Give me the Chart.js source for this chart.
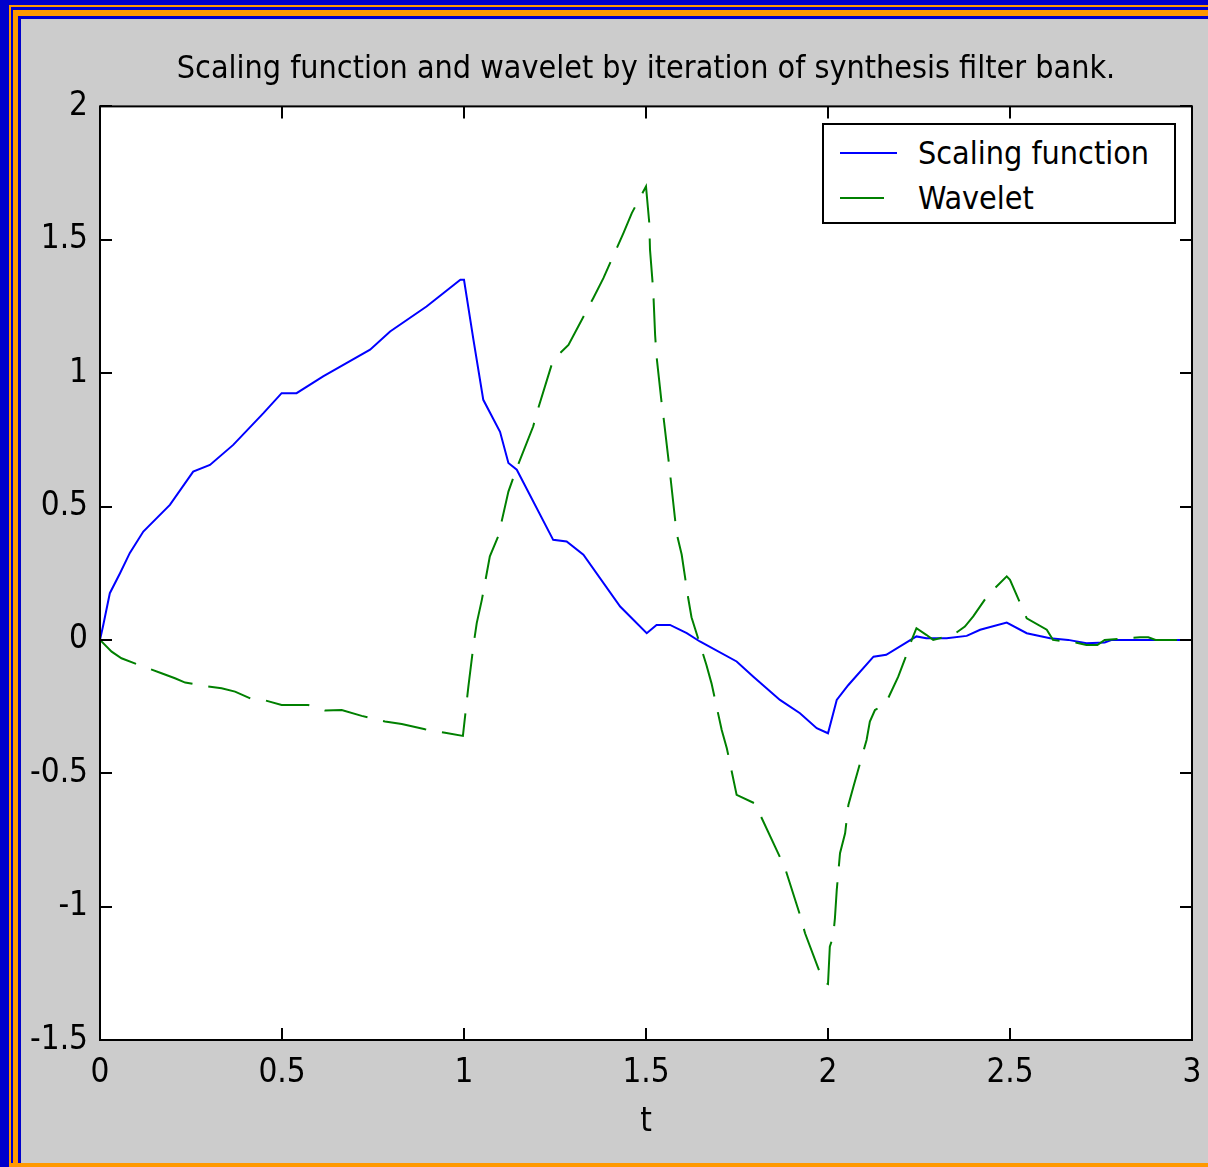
<!DOCTYPE html>
<html>
<head>
<meta charset="utf-8">
<script src="https://cdn.jsdelivr.net/npm/chart.js@4.4.1/dist/chart.umd.min.js"></script>
<style>
  html, body { margin: 0; padding: 0; }
  body { width: 1208px; height: 1167px; position: relative; overflow: hidden; background: #0000CC; }
  .fr { position: absolute; right: 0; }
  #chart { position: absolute; left: 0; top: 0; }
  #legend { position: absolute; left: 822px; top: 123px; width: 350px; height: 97px;
            border: 2px solid #000; background: #fff; }
  .lg-item { position: absolute; left: 0; height: 40px; width: 350px; }
  .lg-item svg { position: absolute; left: 16px; top: 0; }
  .lg-item span { position: absolute; left: 94px; top: 0; line-height: 40px; white-space: nowrap;
                  font-family: "DejaVu Sans Condensed", "Liberation Sans Narrow", sans-serif;
                  font-size: 32px; color: #000; }
</style>
</head>
<body>
<div class="fr" style="left:9px;top:5px;bottom:0;background:#FF9900"></div>
<div class="fr" style="left:11px;top:7px;bottom:4px;background:#0000CC"></div>
<div class="fr" style="left:13px;top:10px;bottom:4px;background:#FF9900"></div>
<div class="fr" style="left:18px;top:16px;bottom:4px;background:#0000CC"></div>
<div class="fr" style="left:21px;top:19px;bottom:4px;background:#CCCCCC"></div>
<canvas id="chart" width="1208" height="1167"></canvas>
<div id="legend"></div>
<script>
// ---- data ----
const titleText = 'Scaling function and wavelet by iteration of synthesis filter bank.';
const xAxisLabel = 't';
const seriesNames = ['Scaling function', 'Wavelet'];

const xTickValues = [0, 0.5, 1, 1.5, 2, 2.5, 3];
const xTickLabels = ['0', '0.5', '1', '1.5', '2', '2.5', '3'];
const yTickValues = [-1.5, -1, -0.5, 0, 0.5, 1, 1.5, 2];
const yTickLabels = ['-1.5', '-1', '-0.5', '0', '0.5', '1', '1.5', '2'];

const scalingT = [0, 0.009, 0.027, 0.055, 0.082, 0.119, 0.192, 0.256, 0.302, 0.366, 0.449, 0.499, 0.54,
  0.613, 0.742, 0.797, 0.897, 0.99, 1.0, 1.026, 1.053, 1.099, 1.122, 1.145, 1.245, 1.282, 1.328, 1.429,
  1.502, 1.529, 1.566, 1.612, 1.648, 1.749, 1.795, 1.868, 1.923, 1.969, 2.0, 2.024, 2.056, 2.125, 2.16,
  2.243, 2.27, 2.326, 2.381, 2.418, 2.491, 2.546, 2.61, 2.66, 2.71, 2.76, 2.78, 3.0];
const scalingV = [0, 0.056, 0.175, 0.25, 0.326, 0.406, 0.506, 0.631, 0.656, 0.731, 0.85, 0.925, 0.925,
  0.988, 1.088, 1.156, 1.25, 1.35, 1.35, 1.125, 0.9, 0.78, 0.663, 0.638, 0.375, 0.369, 0.319, 0.125,
  0.025, 0.056, 0.056, 0.025, -0.006, -0.081, -0.138, -0.225, -0.275, -0.331, -0.35, -0.225, -0.169, -0.063, -0.056,
  0.013, 0.006, 0.006, 0.015, 0.038, 0.065, 0.025, 0.006, 0, -0.013, -0.01, 0, 0];

const waveletT = [0, 0.032, 0.059, 0.119, 0.169, 0.206, 0.234, 0.284, 0.334, 0.371, 0.417, 0.449, 0.499,
  0.572, 0.618, 0.664, 0.719, 0.783, 0.829, 0.893, 0.948, 0.997, 1.012, 1.026, 1.035, 1.049, 1.071, 1.094,
  1.122, 1.145, 1.19, 1.204, 1.245, 1.287, 1.355, 1.383, 1.438, 1.461, 1.5, 1.509, 1.511, 1.52, 1.525,
  1.529, 1.543, 1.549, 1.564, 1.57, 1.584, 1.598, 1.616, 1.625, 1.666, 1.68, 1.708, 1.722, 1.749, 1.799,
  1.859, 1.882, 1.923, 1.937, 1.987, 2.0, 2.005, 2.014, 2.019, 2.024, 2.033, 2.047, 2.056, 2.07, 2.106,
  2.115, 2.129, 2.152, 2.161, 2.193, 2.212, 2.23, 2.243, 2.27, 2.289, 2.344, 2.376, 2.399, 2.44, 2.491,
  2.5, 2.546, 2.601, 2.618, 2.68, 2.71, 2.74, 2.76, 2.857, 2.88, 2.9, 3.0];
const waveletV = [0, -0.044, -0.069, -0.1, -0.125, -0.144, -0.16, -0.172, -0.181, -0.194, -0.222, -0.225, -0.244,
  -0.244, -0.265, -0.263, -0.285, -0.306, -0.315, -0.335, -0.348, -0.36, -0.175, -0.02, 0.063, 0.15, 0.313, 0.388,
  0.556, 0.644, 0.8, 0.869, 1.05, 1.106, 1.281, 1.356, 1.525, 1.6, 1.7, 1.563, 1.463, 1.306, 1.144,
  1.063, 0.888, 0.825, 0.65, 0.575, 0.4, 0.32, 0.156, 0.085, -0.094, -0.163, -0.338, -0.406, -0.581, -0.613,
  -0.788, -0.856, -1.031, -1.1, -1.281, -1.29, -1.15, -1.113, -1.044, -0.938, -0.8, -0.725, -0.619, -0.55, -0.375,
  -0.306, -0.263, -0.244, -0.231, -0.138, -0.069, 0, 0.044, 0.019, 0, 0.019, 0.05, 0.088, 0.169, 0.238,
  0.225, 0.081, 0.038, 0, -0.01, -0.019, -0.019, 0, 0.01, 0.01, 0, 0];

// ---- styles ----
const FONT = '"DejaVu Sans Condensed", "Liberation Sans Narrow", sans-serif';
const FS = 33;
const TITLE_FS = 32;
const scalingColor = '#0000FF';
const waveletColor = '#008000';
const waveletDash = [44, 16];

const toPts = (ts, vs) => ts.map((t, i) => ({ x: t, y: vs[i] }));

const frameBox = {
  id: 'frameBox',
  beforeDatasetsDraw(chart) {
    const { ctx, chartArea: a } = chart;
    ctx.save();
    ctx.fillStyle = '#FFFFFF';
    ctx.fillRect(a.left, a.top, a.right - a.left, a.bottom - a.top);
    ctx.restore();
  },
  afterDatasetsDraw(chart) {
    const { ctx, chartArea: a, scales } = chart;
    ctx.save();
    ctx.strokeStyle = '#000';
    ctx.lineWidth = 2;
    ctx.strokeRect(a.left, a.top, a.right - a.left, a.bottom - a.top);
    const L = 12;
    ctx.beginPath();
    xTickValues.forEach(v => {
      const px = Math.round(scales.x.getPixelForValue(v));
      ctx.moveTo(px, a.bottom); ctx.lineTo(px, a.bottom - L);
      ctx.moveTo(px, a.top); ctx.lineTo(px, a.top + L);
    });
    yTickValues.forEach(v => {
      const py = Math.round(scales.y.getPixelForValue(v));
      ctx.moveTo(a.left, py); ctx.lineTo(a.left + L, py);
      ctx.moveTo(a.right, py); ctx.lineTo(a.right - L, py);
    });
    ctx.stroke();
    ctx.restore();
  }
};

const chart = new Chart(document.getElementById('chart'), {
  type: 'scatter',
  data: {
    datasets: [
      { label: seriesNames[0], data: toPts(scalingT, scalingV), showLine: true, borderColor: scalingColor,
        borderWidth: 2, pointRadius: 0, tension: 0, order: 1 },
      { label: seriesNames[1], data: toPts(waveletT, waveletV), showLine: true, borderColor: waveletColor,
        borderWidth: 2, pointRadius: 0, tension: 0, borderDash: waveletDash, order: 0 }
    ]
  },
  options: {
    responsive: false,
    animation: false,
    events: [],
    layout: { padding: { left: 0, right: 16, top: 0, bottom: 0 }, autoPadding: false },
    plugins: {
      legend: { display: false },
      tooltip: { enabled: false },
      title: {
        display: true, text: titleText, color: '#000', fullSize: false,
        font: { family: FONT, size: TITLE_FS, weight: 'normal', lineHeight: 1.2 },
        padding: { top: 50, bottom: 18 }
      }
    },
    scales: {
      x: {
        type: 'linear', position: 'bottom', min: 0, max: 3,
        afterBuildTicks: s => { s.ticks = xTickValues.map(v => ({ value: v })); },
        afterFit: s => { s.height = 127; s.paddingLeft = 0; s.paddingRight = 0; },
        grid: { display: false, drawTicks: false },
        border: { display: false },
        ticks: { color: '#000', font: { family: FONT, size: FS }, padding: 14, maxRotation: 0, autoSkip: false,
                 callback: v => xTickLabels[xTickValues.indexOf(v)] },
        title: { display: true, text: xAxisLabel, color: '#000', font: { family: FONT, size: FS },
                 padding: { top: 0, bottom: 25 } }
      },
      y: {
        type: 'linear', position: 'left', min: -1.5, max: 2,
        afterBuildTicks: s => { s.ticks = yTickValues.map(v => ({ value: v })); },
        afterFit: s => { s.width = 100; s.paddingTop = 0; s.paddingBottom = 0; },
        grid: { display: false, drawTicks: false },
        border: { display: false },
        ticks: { color: '#000', font: { family: FONT, size: FS }, padding: 12, autoSkip: false,
                 callback: v => yTickLabels[yTickValues.indexOf(v)] }
      }
    }
  },
  plugins: [frameBox]
});

// legend box (MATLAB style, inside axes)
const lg = document.getElementById('legend');
chart.data.datasets.forEach((ds, i) => {
  const row = document.createElement('div');
  row.className = 'lg-item';
  row.style.top = (i === 0 ? 8 : 53) + 'px';
  const dash = ds.borderDash ? ds.borderDash.join(' ') : 'none';
  row.innerHTML = '<svg width="60" height="40"><line x1="0" y1="20" x2="57" y2="20" stroke="' + ds.borderColor +
    '" stroke-width="2" stroke-dasharray="' + dash + '"/></svg><span></span>';
  row.querySelector('span').textContent = ds.label;
  lg.appendChild(row);
});
</script>
</body>
</html>
